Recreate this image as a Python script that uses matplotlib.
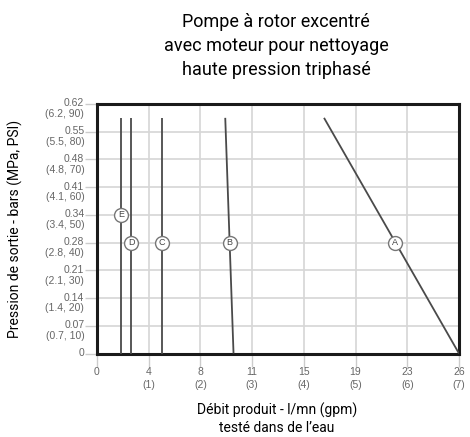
import matplotlib.pyplot as plt
from matplotlib import transforms

# axes in gpm / PSI, labelled in l/mn and bars (MPa, PSI)
x_ticks = [0, 1, 2, 3, 4, 5, 6, 7]
x_lmn = ["0", "4", "8", "11", "15", "19", "23", "26"]
y_ticks = [0, 10, 20, 30, 40, 50, 60, 70, 80, 90]
y_bar = ["0", "0.07", "0.14", "0.21", "0.28", "0.34", "0.41", "0.48", "0.55", "0.62"]
y_mpa = ["", "0.7", "1.4", "2.1", "2.8", "3.4", "4.1", "4.8", "5.5", "6.2"]

noms = ["A", "B", "C", "D", "E"]
debit = {
    "A": [4.39, 7.0],
    "B": [2.48, 2.64],
    "C": [1.25, 1.25],
    "D": [0.665, 0.665],
    "E": [0.47, 0.47],
}
pression = [85, 0]
etiquette_x = [5.77, 2.565, 1.25, 0.665, 0.47]
etiquette_y = [40, 40, 40, 40, 50]

narrow = ["Roboto", "DejaVu Sans"]
gris = "#666666"

fig = plt.figure(figsize=(4.7, 4.37), dpi=100)
ax = fig.add_axes([97 / 470, 1 - 353.5 / 437, 362 / 470, 249.5 / 437])

for n in noms:
    ax.plot(debit[n], pression, color="#4a4a4a", lw=1.3, solid_capstyle="butt", zorder=3)
for n, xe, ye in zip(noms, etiquette_x, etiquette_y):
    ax.plot(xe, ye, "o", ms=10, mfc="white", mec="#777777", mew=1.0, zorder=4)
    ax.text(xe, ye, n, ha="center", va="center", fontsize=6.5, color="#444444",
            family="Liberation Sans", zorder=5)

ax.set_xlim(0, 7)
ax.set_ylim(0, 90)
ax.set_xticks(x_ticks)
ax.set_yticks(y_ticks)
ax.grid(True, color="#d6d6d6", lw=1.2, zorder=0)
ax.set_axisbelow(True)
for s in ax.spines.values():
    s.set_linewidth(2.2)
    s.set_color("#1a1a1a")
ax.tick_params(length=9, width=1.0, color="#cccccc", pad=3)

# x labels: l/mn over (gpm)
ax.set_xticklabels([])
xt = transforms.blended_transform_factory(ax.transData, ax.transAxes)
for i, (v, lab) in enumerate(zip(x_ticks, x_lmn)):
    txt = lab if i == 0 else f"{lab}\n({v})"
    ax.text(v, -0.055, txt, transform=xt, ha="center", va="top", fontsize=7.5,
            color=gris, family="Liberation Sans", linespacing=1.35)

# y labels: bars over (MPa, PSI)
ax.set_yticklabels([])
yt = transforms.blended_transform_factory(ax.transAxes, ax.transData)
for v, b, m in zip(y_ticks, y_bar, y_mpa):
    txt = b if v == 0 else f"{b}\n({m}, {v})"
    ax.text(-0.035, v + 2.0, txt, transform=yt, ha="right", va="top", fontsize=7.5,
            color=gris, family="Liberation Sans", linespacing=1.1, multialignment="right")

fig.text(276 / 470, 1 - 46 / 437,
         "Pompe à rotor excentré\navec moteur pour nettoyage\nhaute pression triphasé",
         ha="center", va="center", fontsize=13, family=narrow, linespacing=1.4)
fig.text(277 / 470, 1 - 419 / 437, "Débit produit - l/mn (gpm)\ntesté dans de l’eau",
         ha="center", va="center", fontsize=10, family=narrow, linespacing=1.3)
fig.text(15 / 470, 1 - 229 / 437, "Pression de sortie - bars (MPa, PSI)",
         ha="center", va="center", rotation=90, fontsize=10, family=narrow)

fig.savefig("out.png", dpi=100)
